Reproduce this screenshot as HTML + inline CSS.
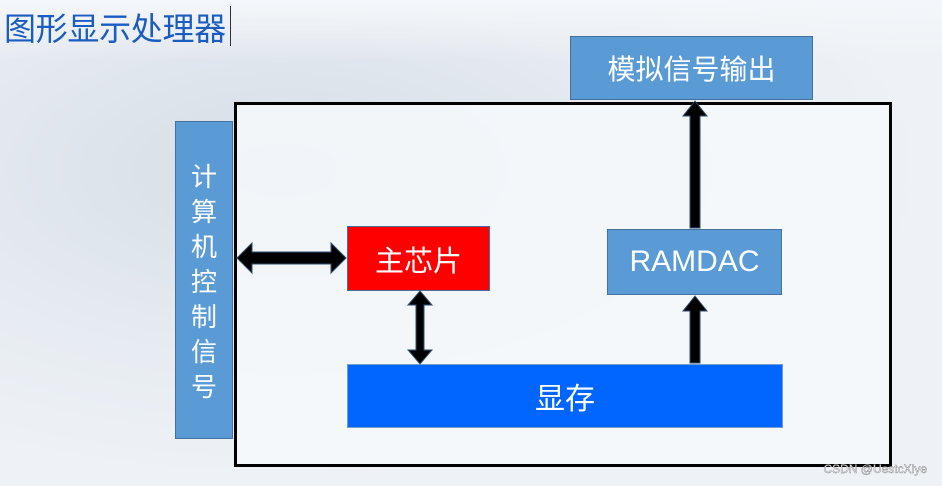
<!DOCTYPE html>
<html><head><meta charset="utf-8"><style>
body{margin:0;width:942px;height:486px;overflow:hidden;position:relative;font-family:"Liberation Sans","Noto Sans CJK SC",sans-serif;
background:radial-gradient(ellipse at 30% 35%,#d6dde6 0%,#e6ebf1 40%,#eef2f6 70%),#eef2f6;}
.b{position:absolute;box-sizing:border-box;display:flex;align-items:center;justify-content:center;color:#fff;}
</style></head><body>
<div style="position:absolute;left:0;top:0;width:942px;height:60px;background:linear-gradient(#f4f7fa,rgba(244,247,250,0))"></div>
<div style="position:absolute;left:4px;top:6px;font-size:32px;color:#1a5cc0;line-height:42px;font-family:'Noto Sans CJK SC',sans-serif;letter-spacing:-0.3px">图形显示处理器</div>
<div style="position:absolute;left:230px;top:6px;width:1px;height:40px;background:#333"></div>
<div style="position:absolute;left:234px;top:102px;width:658px;height:365px;box-sizing:border-box;border:3px solid #000;background:rgba(246,249,252,0.85)"></div>
<div class="b" style="left:175px;top:121px;width:58px;height:318px;background:#5b9bd5;border:1px solid #41719c;flex-direction:column;font-size:26px;line-height:35px;font-family:'Noto Sans CJK SC',sans-serif">计<br>算<br>机<br>控<br>制<br>信<br>号</div>
<div class="b" style="left:570px;top:36px;width:243px;height:64px;background:#5b9bd5;border:1px solid #41719c;font-size:28px;font-family:'Noto Sans CJK SC',sans-serif">模拟信号输出</div>
<div class="b" style="left:347px;top:226px;width:143px;height:65px;background:#ff0000;border:1px solid #41719c;font-size:29px;font-family:'Noto Sans CJK SC',sans-serif">主芯片</div>
<div class="b" style="left:607px;top:229px;width:175px;height:66px;background:#5b9bd5;border:1px solid #41719c;font-size:30px">RAMDAC</div>
<div class="b" style="left:347px;top:364px;width:436px;height:64px;background:#0066ff;border:1px solid #6d9ed4;font-size:30px;font-family:'Noto Sans CJK SC',sans-serif">显存</div>
<svg style="position:absolute;left:0;top:0" width="942" height="486">
<g fill="#000" stroke="#2e4f73" stroke-width="1">
<polygon points="237,258 252,243 252,252 331,252 331,243 346,258 331,273 331,264 252,264 252,273"/>
<polygon points="420,291 432,305 424,305 424,350 432,350 420,364 408,350 416,350 416,305 408,305"/>
<polygon points="695,101 707,116 700,116 700,228 690,228 690,116 683,116"/>
<polygon points="695,296 707,311 700,311 700,363 690,363 690,311 683,311"/>
</g>
<text x="927" y="473" font-size="12" fill="#fff" stroke="#777" stroke-width="0.4" text-anchor="end" font-family="Liberation Sans">CSDN @UestcXiye</text>
</svg>
</body></html>
